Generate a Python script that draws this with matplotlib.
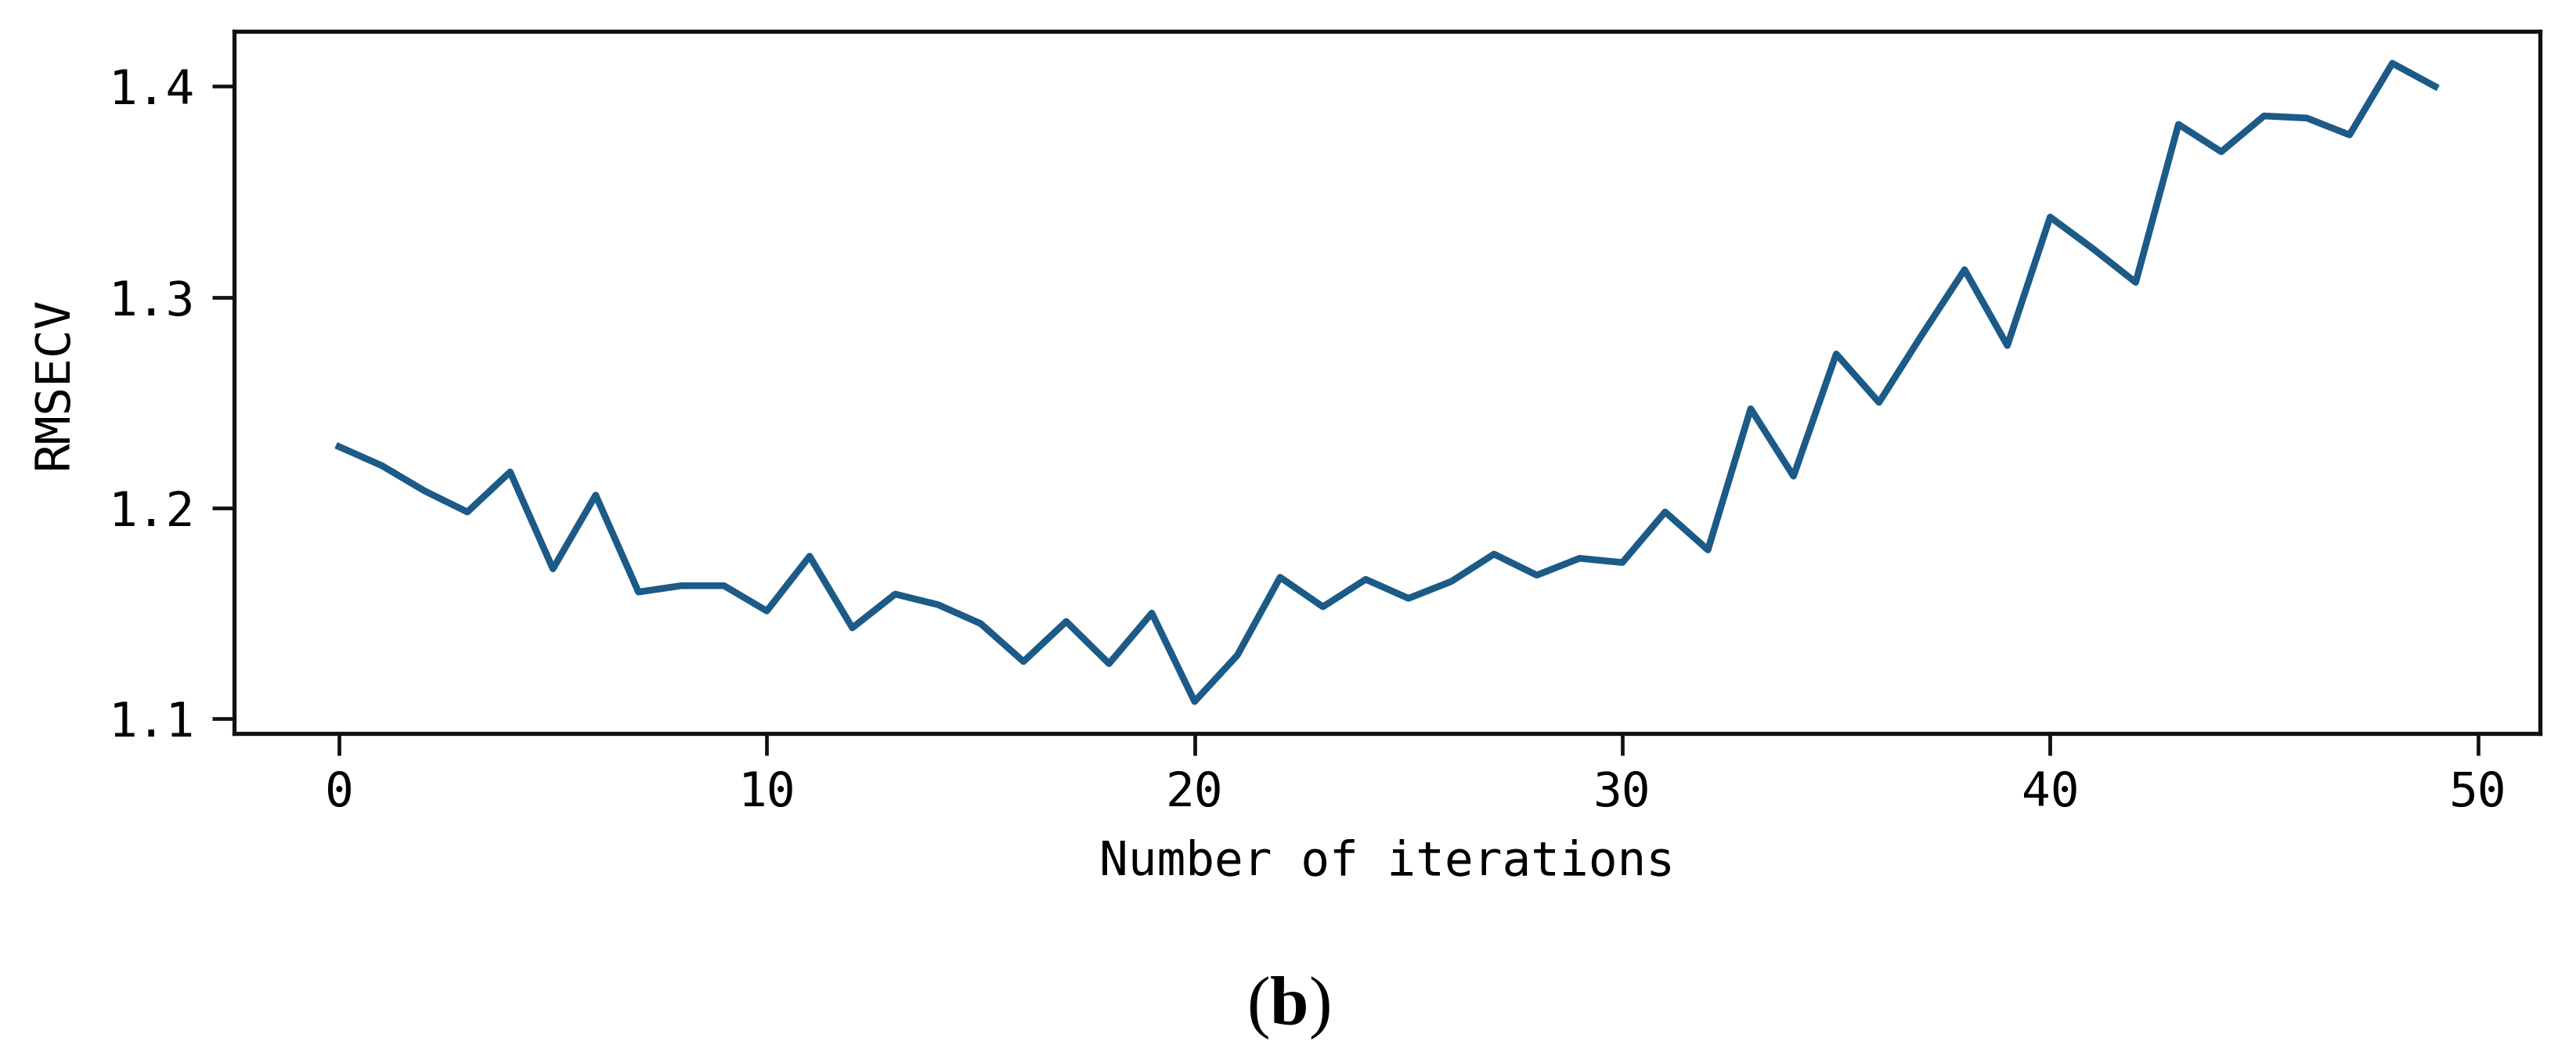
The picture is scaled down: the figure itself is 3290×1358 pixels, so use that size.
import matplotlib
matplotlib.use('Agg')
import matplotlib.pyplot as plt

# RMSECV value after each iteration
iterations = list(range(50))
rmsecv = [1.229, 1.220, 1.208, 1.198, 1.217, 1.171, 1.206, 1.160, 1.163, 1.163,
          1.151, 1.177, 1.143, 1.159, 1.154, 1.145, 1.127, 1.146, 1.126, 1.150,
          1.108, 1.130, 1.167, 1.153, 1.166, 1.157, 1.165, 1.178, 1.168, 1.176,
          1.174, 1.198, 1.180, 1.247, 1.215, 1.273, 1.250, 1.282, 1.313, 1.277,
          1.338, 1.323, 1.307, 1.382, 1.369, 1.386, 1.385, 1.377, 1.411, 1.400]

x_ticks = [0, 10, 20, 30, 40, 50]
y_ticks = [1.1, 1.2, 1.3, 1.4]

x_label = 'Number of iterations'
y_label = 'RMSECV'
caption = r'($\mathbf{b}$)'

plt.rcParams['font.family'] = ['DejaVu Sans Mono']
plt.rcParams['mathtext.fontset'] = 'custom'
plt.rcParams['mathtext.rm'] = 'Liberation Serif'
plt.rcParams['mathtext.bf'] = 'Liberation Serif:bold'


def draw_plot(xdata, ydata):
    fig = plt.figure(figsize=(32.91, 13.58), dpi=100)
    ax = fig.add_axes([0.0909, 0.31, 0.8948, 0.6605])

    ax.plot(xdata, ydata, color='#1c5a87', linewidth=6.2)

    ax.set_xticks(x_ticks)
    ax.set_yticks(y_ticks)
    ax.tick_params(axis='both', length=20, width=3.4, labelsize=44, color='#111111')
    ax.tick_params(axis='x', pad=14)
    ax.tick_params(axis='y', pad=16)
    for spine in ax.spines.values():
        spine.set_linewidth(3.8)
        spine.set_color('#111111')

    ax.set_xlabel(x_label, fontsize=44, labelpad=20)
    ax.set_ylabel(y_label, fontsize=44, labelpad=29)

    # panel caption under the chart
    fig.text(0.5, 0.052, caption, ha='center', va='center', fontsize=64,
             family='Liberation Serif')

    fig.savefig('out.png', dpi=100, facecolor='white')


if __name__ == "__main__":
    draw_plot(iterations, rmsecv)
